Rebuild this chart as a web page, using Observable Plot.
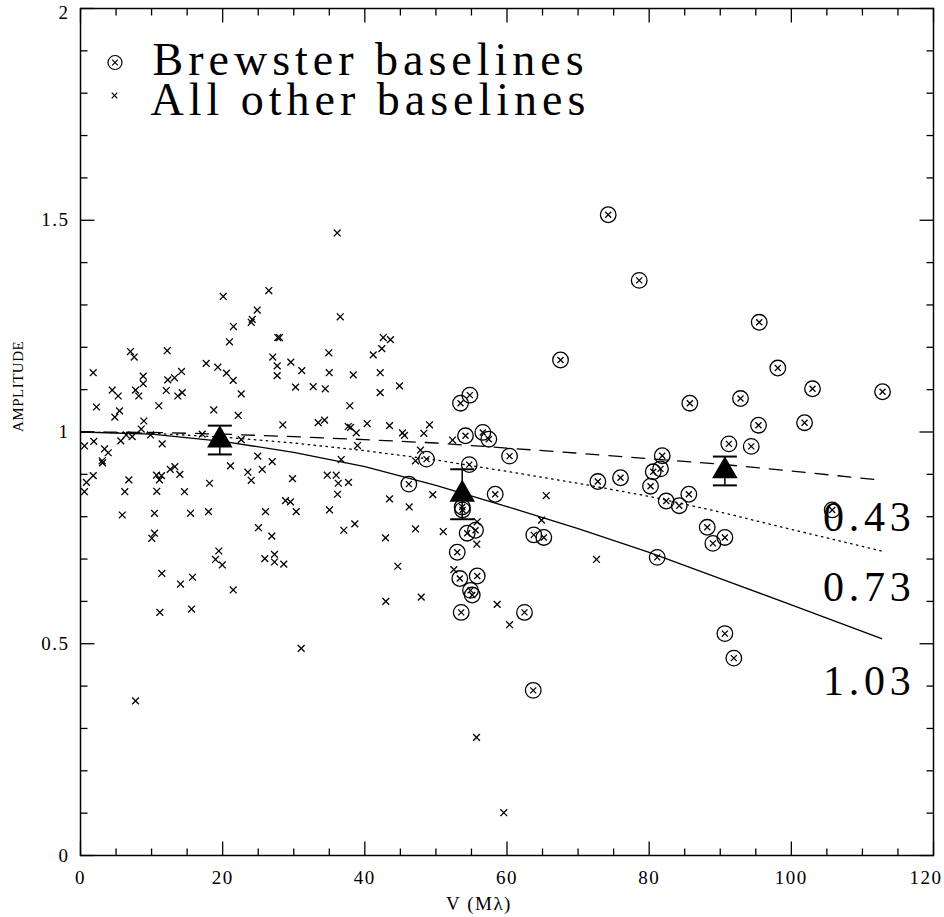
<!DOCTYPE html>
<html><head><meta charset="utf-8">
<script src="https://cdn.jsdelivr.net/npm/d3@7"></script>
<script src="https://cdn.jsdelivr.net/npm/@observablehq/plot@0.6"></script>
<style>
body{margin:0;background:#fff;}
svg{display:block;}
</style></head><body><div id="chart"></div>
<script>
// ---- data ----
const otherV = [20.08,26.49,24.86,24.16,24.02,21.52,20.96,27.05,7.03,7.55,12.20,1.79,17.68,19.32,20.54,21.48,8.82,8.82,12.28,13.22,14.21,4.46,5.30,7.74,8.20,12.06,13.69,14.31,22.61,2.25,11.02,4.83,5.49,18.75,22.19,8.91,8.54,17.12,6.43,7.27,9.85,0.56,1.87,3.38,3.90,5.67,11.49,22.61,3.05,3.10,21.10,24.94,26.97,23.54,25.56,6.80,10.69,11.40,11.11,12.62,13.27,13.97,1.79,0.84,0.56,6.23,5.87,10.73,10.41,10.41,10.03,14.63,15.48,18.15,18.01,24.02,26.03,25.04,26.91,19.46,18.99,19.94,25.93,27.29,27.29,11.44,14.07,15.76,21.48,11.16,15.62,7.74,28.60,28.84,29.54,30.35,29.83,31.05,36.11,
36.54,27.76,28.00,42.59,43.61,42.39,41.18,34.93,27.67,27.67,29.59,31.13,34.99,38.37,42.16,30.25,32.74,34.43,42.16,44.88,37.89,28.46,33.44,34.33,37.66,37.99,38.79,40.33,43.47,45.30,45.58,48.30,49.10,52.34,38.97,47.83,36.68,47.13,34.71,35.97,36.26,37.70,36.16,35.03,37.04,38.59,43.47,42.91,44.64,42.95,46.24,49.56,47.13,51.03,52.52,47.93,55.75,55.81,58.62,60.36,55.71,59.55,65.52,64.86,72.59];
const otherA = [1.320,1.334,1.288,1.266,1.259,1.249,1.213,1.177,1.190,1.177,1.192,1.140,1.162,1.153,1.139,1.122,1.132,1.114,1.123,1.128,1.143,1.099,1.085,1.099,1.085,1.098,1.085,1.093,1.090,1.059,1.062,1.035,1.050,1.052,1.039,1.026,1.007,0.995,0.993,0.989,0.993,0.967,0.978,0.960,0.951,0.979,0.972,0.982,0.932,0.927,0.920,0.943,0.930,0.905,0.912,0.887,0.898,0.897,0.887,0.912,0.918,0.900,0.897,0.881,0.859,0.859,0.804,0.860,0.808,0.761,0.749,0.859,0.808,0.879,0.812,0.886,0.812,0.774,0.754,0.719,0.699,0.686,0.701,0.711,0.693,0.666,0.641,0.657,0.627,0.574,0.582,0.365,0.688,0.838,0.835,0.812,0.890,0.489,1.470,
1.272,1.223,1.223,1.223,1.218,1.197,1.182,1.187,1.156,1.133,1.165,1.145,1.140,1.135,1.140,1.106,1.107,1.102,1.093,1.109,1.062,1.017,1.022,1.028,1.013,1.011,0.998,1.020,1.015,0.998,0.992,0.997,1.017,0.981,0.968,0.957,0.935,0.932,0.898,0.898,0.879,0.881,0.853,0.816,0.768,0.783,0.842,0.750,0.683,0.600,0.823,0.852,0.771,0.765,0.675,0.610,0.735,0.788,0.593,0.545,0.279,0.101,0.850,0.792,0.699];

const brewV = [48.68,46.19,54.77,53.46,54.16,56.60,57.44,60.36,54.69,58.34,53.70,53.74,54.40,55.57,63.77,65.18,53.00,53.36,55.81,54.87,55.11,53.56,62.46,63.69,74.24,78.60,67.53,85.72,81.84,72.78,75.97,80.57,81.60,80.19,82.40,84.23,85.58,88.17,88.96,90.65,81.13,95.48,98.10,102.98,112.83,92.85,95.38,101.86,91.21,94.36,105.75,90.65,91.91];
const brewA = [0.936,0.877,1.087,1.068,0.991,0.999,0.983,0.943,0.923,0.853,0.823,0.816,0.761,0.768,0.757,0.751,0.716,0.654,0.660,0.626,0.615,0.574,0.574,0.390,1.513,1.358,1.170,1.068,0.944,0.883,0.892,0.906,0.913,0.872,0.837,0.826,0.853,0.775,0.737,0.751,0.704,1.259,1.151,1.102,1.095,1.079,1.016,1.022,0.972,0.966,0.816,0.524,0.466];

const binV = [19.6, 53.7, 90.65];
const binA = [0.981, 0.853, 0.908];
const binErr = [0.034, 0.059, 0.034];

const curveV = [0,10,20,30,40,50,60,70,80,90,100,112.7];
const curve043 = [1.0,0.999,0.995,0.989,0.982,0.974,0.962,0.950,0.937,0.924,0.908,0.886];
const curve073 = [1.0,0.997,0.988,0.974,0.956,0.934,0.907,0.879,0.848,0.811,0.770,0.719];
const curve103 = [1.0,0.995,0.978,0.952,0.918,0.874,0.824,0.772,0.716,0.654,0.592,0.512];
const curveLabels = ["0.43","0.73","1.03"];

const legendLabels = ["Brewster baselines","All other baselines"];
const xTicks = [0,20,40,60,80,100,120];
const yTicks = [0,0.5,1,1.5,2];
const xMinor = [5,10,15,25,30,35,45,50,55,65,70,75,85,90,95,105,110,115];
const yMinor = [0.1,0.2,0.3,0.4,0.6,0.7,0.8,0.9,1.1,1.2,1.3,1.4,1.6,1.7,1.8,1.9];

// ---- build tables ----
const others = otherV.map((v,i)=>({v, a: otherA[i]}));
const brew = brewV.map((v,i)=>({v, a: brewA[i]}));
const bins = binV.map((v,i)=>({v, a: binA[i], e: binErr[i]}));
const mk = arr => curveV.map((v,i)=>({v, a: arr[i]}));
const c043 = mk(curve043), c073 = mk(curve073), c103 = mk(curve103);

// ---- symbols ----
const sym = f => ({draw(ctx, size){ const l = Math.sqrt(size/Math.PI); f(ctx, l); }});
const tickUp = sym((c,l)=>{c.moveTo(0,0);c.lineTo(0,-l);});
const tickDown = sym((c,l)=>{c.moveTo(0,0);c.lineTo(0,l);});
const tickRight = sym((c,l)=>{c.moveTo(0,0);c.lineTo(l,0);});
const tickLeft = sym((c,l)=>{c.moveTo(0,0);c.lineTo(-l,0);});
const hbar = sym((c,l)=>{c.moveTo(-l,0);c.lineTo(l,0);});
const cross = sym((c,l)=>{c.moveTo(-l,-l);c.lineTo(l,l);c.moveTo(-l,l);c.lineTo(l,-l);});

const K = "black";
const tickMarks = [];
for (const [ticks, len] of [[xTicks,14],[xMinor,7]]) {
  tickMarks.push(Plot.dot(ticks, {x: d=>d, frameAnchor:"bottom", symbol: tickUp, r: len, stroke: K, fill:"none", strokeWidth:1.3}));
  tickMarks.push(Plot.dot(ticks, {x: d=>d, frameAnchor:"top", symbol: tickDown, r: len, stroke: K, fill:"none", strokeWidth:1.3}));
}
for (const [ticks, len] of [[yTicks,14],[yMinor,7]]) {
  tickMarks.push(Plot.dot(ticks, {y: d=>d, frameAnchor:"left", symbol: tickRight, r: len, stroke: K, fill:"none", strokeWidth:1.3}));
  tickMarks.push(Plot.dot(ticks, {y: d=>d, frameAnchor:"right", symbol: tickLeft, r: len, stroke: K, fill:"none", strokeWidth:1.3}));
}

const curves = [[c043, "13,10"], [c073, "1.5,4.5"], [c103, null]];
const curveDy = [37, 37, 43];
const xIn = xTicks.slice(0, -1), xLast = xTicks.slice(-1);
const yIn = yTicks.slice(0, -1), yLast = yTicks.slice(-1);

const chart = Plot.plot({
  width: 944, height: 917,
  marginLeft: 80, marginRight: 11, marginTop: 8, marginBottom: 62,
  style: {fontFamily: "Liberation Serif", background: "white", color: "black"},
  x: {domain: [0,120], axis: null},
  y: {domain: [0,2], axis: null},
  marks: [
    // curves
    ...curves.map(([data, dash]) => Plot.line(data, {x:"v", y:"a", stroke:K, strokeWidth:1.3, strokeDasharray: dash ?? undefined})),
    ...curves.map(([data], i) => Plot.text([data[data.length-1]], {x:"v", y:"a", text: () => curveLabels[i], textAnchor:"end", lineAnchor:"middle", dx: 34, dy: curveDy[i], fontSize: 42, fill: K})),
    // other baselines
    Plot.dot(others, {x:"v", y:"a", symbol: cross, r: 3.4, stroke: K, fill:"none", strokeWidth: 1.3}),
    // Brewster baselines
    Plot.dot(brew, {x:"v", y:"a", r: 7.8, stroke: K, fill:"none", strokeWidth: 1.3}),
    Plot.dot(brew, {x:"v", y:"a", symbol: cross, r: 3, stroke: K, fill:"none", strokeWidth: 1.3}),
    // binned averages
    Plot.ruleX(bins, {x:"v", y1: d=>d.a-d.e, y2: d=>d.a+d.e, stroke:K, strokeWidth:1.5}),
    Plot.dot(bins, {x:"v", y: d=>d.a+d.e, symbol: hbar, r: 12, stroke:K, fill:"none", strokeWidth:2}),
    Plot.dot(bins, {x:"v", y: d=>d.a-d.e, symbol: hbar, r: 12, stroke:K, fill:"none", strokeWidth:2}),
    Plot.dot(bins, {x:"v", y:"a", symbol:"triangle", r: 9.5, fill:K, stroke:"none"}),
    // frame + ticks
    Plot.frame({stroke:K, strokeWidth:1.5}),
    ...tickMarks,
    Plot.text(xIn, {x: d=>d, text: d=>String(d), frameAnchor:"bottom", dy: 22, lineAnchor:"middle", fontSize: 19, fill:K}),
    Plot.text(xLast, {x: d=>d, text: d=>String(d), frameAnchor:"bottom", dy: 22, dx: 9, textAnchor:"end", lineAnchor:"middle", fontSize: 19, fill:K}),
    Plot.text(yIn, {y: d=>d, text: d=>String(d), frameAnchor:"left", dx: -11, textAnchor:"end", lineAnchor:"middle", fontSize: 19, fill:K}),
    Plot.text(yLast, {y: d=>d, text: d=>String(d), frameAnchor:"left", dx: -11, dy: 4, textAnchor:"end", lineAnchor:"middle", fontSize: 19, fill:K}),
    Plot.text(["V (Mλ)"], {text: d=>d, frameAnchor:"bottom", dx: -28, dy: 48, lineAnchor:"middle", fontSize: 19, fill:K}),
    Plot.text(["AMPLITUDE"], {text: d=>d, frameAnchor:"left", dx: -62, rotate: -90, lineAnchor:"middle", fontSize: 15, fill:K}),
    // legend
    Plot.dot([0], {frameAnchor:"top-left", dx: 34.5, dy: 54, r: 7, stroke:K, fill:"none", strokeWidth:1.2}),
    Plot.dot([0], {frameAnchor:"top-left", dx: 34.5, dy: 54, symbol: cross, r: 2.8, stroke:K, fill:"none", strokeWidth:1.2}),
    Plot.dot([0], {frameAnchor:"top-left", dx: 34, dy: 87, symbol: cross, r: 2.8, stroke:K, fill:"none", strokeWidth:1.2}),
    Plot.text([legendLabels[0]], {text: d=>d, frameAnchor:"top-left", dx: 72, dy: 52, textAnchor:"start", lineAnchor:"middle", fontSize: 46, fill:K}),
    Plot.text([legendLabels[1]], {text: d=>d, frameAnchor:"top-left", dx: 70, dy: 92, textAnchor:"start", lineAnchor:"middle", fontSize: 46, fill:K})
  ]
});
// letter spacing to mimic the wide plotting font
d3.select(chart).selectAll("text").each(function() {
  const t = this.textContent;
  if (legendLabels.includes(t)) this.style.letterSpacing = "5px";
  else if (curveLabels.includes(t)) this.style.letterSpacing = "4.8px";
  else if (t !== "AMPLITUDE") this.style.letterSpacing = "1.5px";
  else this.style.letterSpacing = "0.5px";
});
document.getElementById("chart").appendChild(chart);
</script>
</body></html>
